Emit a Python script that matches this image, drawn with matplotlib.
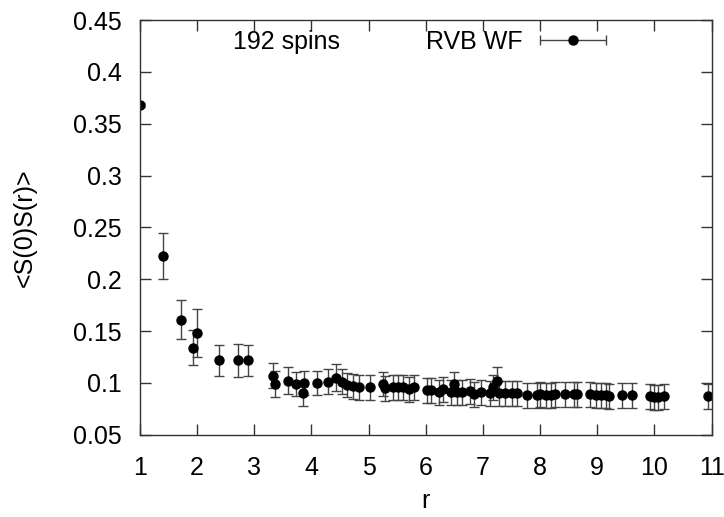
import numpy as np
import matplotlib
matplotlib.use("Agg")
import matplotlib.pyplot as plt

plt.rcParams['font.family'] = ['Liberation Sans', 'DejaVu Sans']

# data
r = [1.0, 1.40, 1.72, 1.93, 2.0, 2.38, 2.71, 2.89, 3.33, 3.36,
     3.6, 3.73, 3.85, 3.88, 4.1, 4.29, 4.43, 4.53, 4.62, 4.72,
     4.83, 5.02, 5.25, 5.29, 5.42, 5.51, 5.6, 5.7, 5.8, 6.02,
     6.1, 6.24, 6.3, 6.44, 6.5, 6.54, 6.64, 6.77, 6.85, 6.96,
     7.12, 7.17, 7.24, 7.28, 7.38, 7.5, 7.6, 7.77, 7.94, 8.0,
     8.1, 8.19, 8.26, 8.43, 8.59, 8.64, 8.87, 8.97, 9.06, 9.15,
     9.2, 9.43, 9.6, 9.92, 9.99, 10.06, 10.17, 10.93]
corr = [0.368, 0.2225, 0.161, 0.134, 0.148, 0.122, 0.122, 0.122, 0.107, 0.099,
        0.102, 0.099, 0.090, 0.100, 0.100, 0.101, 0.105, 0.101, 0.098, 0.097,
        0.096, 0.096, 0.099, 0.095, 0.096, 0.096, 0.096, 0.094, 0.096, 0.093,
        0.093, 0.091, 0.094, 0.091, 0.099, 0.091, 0.091, 0.092, 0.089, 0.091,
        0.090, 0.096, 0.102, 0.090, 0.090, 0.090, 0.090, 0.088, 0.088, 0.089,
        0.088, 0.088, 0.089, 0.089, 0.089, 0.089, 0.089, 0.088, 0.088, 0.088,
        0.087, 0.088, 0.088, 0.087, 0.086, 0.086, 0.087, 0.087]
err = [0.002, 0.0225, 0.019, 0.017, 0.023, 0.015, 0.016, 0.015, 0.012, 0.013,
       0.013, 0.012, 0.012, 0.012, 0.012, 0.012, 0.013, 0.012, 0.012, 0.012,
       0.012, 0.012, 0.012, 0.012, 0.012, 0.012, 0.012, 0.012, 0.012, 0.012,
       0.012, 0.012, 0.012, 0.012, 0.012, 0.012, 0.012, 0.012, 0.012, 0.012,
       0.012, 0.012, 0.013, 0.012, 0.012, 0.012, 0.012, 0.012, 0.012, 0.012,
       0.012, 0.012, 0.012, 0.012, 0.012, 0.012, 0.012, 0.012, 0.012, 0.012,
       0.012, 0.012, 0.012, 0.012, 0.012, 0.012, 0.012, 0.012]
yticklabels = ['0.05', '0.1', '0.15', '0.2', '0.25', '0.3', '0.35', '0.4', '0.45']

fig = plt.figure(figsize=(7.24, 5.17), dpi=100)
ax = fig.add_axes([0.193, 0.159, 0.790, 0.802])

ax.errorbar(r, corr, yerr=err, fmt='o', color='black', ms=6.5,
            ecolor='#444444', elinewidth=1, capsize=3.5, capthick=1)

ax.set_xlim(1, 11)
ax.set_ylim(0.05, 0.45)
ax.set_xticks(np.arange(1, 12, 1))
ax.set_yticks(np.arange(0.05, 0.451, 0.05))
ax.set_yticklabels(yticklabels)
ax.tick_params(direction='in', length=8, width=1, top=True, right=True,
               labelsize=18, color='#333333')
ax.tick_params(axis='y', pad=13)
ax.tick_params(axis='x', pad=15)
for s in ax.spines.values():
    s.set_color('#333333')
    s.set_linewidth(1)

ax.set_xlabel('r', fontsize=18, labelpad=7)
ax.set_ylabel('<S(0)S(r)>', fontsize=18, labelpad=26)

ax.text(0.257, 0.948, '192 spins', transform=ax.transAxes, fontsize=18,
        ha='center', va='center')
ax.text(0.670, 0.948, 'RVB WF', transform=ax.transAxes, fontsize=18,
        ha='right', va='center')
ax.errorbar([0.757], [0.951], xerr=[0.0577], fmt='o', color='black', ms=6.5,
            ecolor='#444444', elinewidth=1, capsize=3.5, capthick=1,
            transform=ax.transAxes, clip_on=False)

fig.savefig('out.png', dpi=100)
